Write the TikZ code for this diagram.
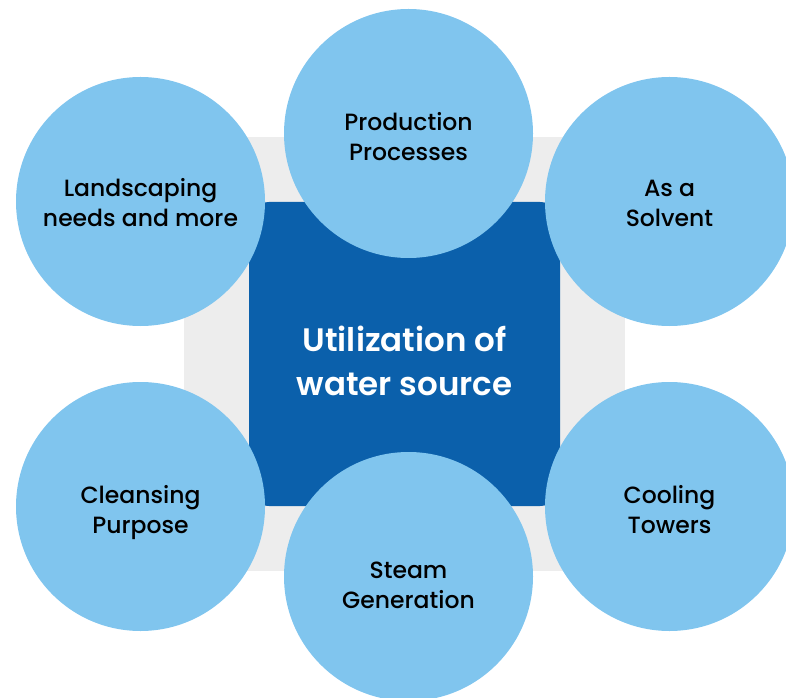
\documentclass[tikz,border=0pt]{standalone}
\usepackage{fontspec}
\setmainfont{Poppins}[BoldFont={Poppins SemiBold}]
\newfontfamily\mediumfont{Poppins Medium}
\definecolor{bubble}{HTML}{80C5EE}
\definecolor{hub}{HTML}{0B60AB}
\definecolor{panel}{HTML}{EDEDED}
\begin{document}
\begin{tikzpicture}[x=1pt,y=1pt,
  bubblestyle/.style={circle,fill=bubble,minimum size=249pt,inner sep=0pt},
  bubbletext/.style={align=center,inner sep=0pt,
    font=\fontsize{23.5}{29.5}\selectfont\mediumfont,text=black},
  hubstyle/.style={fill=hub,rounded corners=20pt,minimum width=311pt,minimum height=304pt,
    inner sep=0pt},
  hubtextstyle/.style={align=center,text=white,inner sep=0pt,font=\fontsize{32.5}{44}\selectfont\bfseries}]
\useasboundingbox (0,0) rectangle (786,697);
\clip (0,0) rectangle (786,697);
\fill[panel] (184,126) rectangle (625,560);
\node[hubstyle] (hub) at (404.5,343) {};
\node[hubtextstyle] (hubtext) at ([yshift=-7pt]hub.center) {Utilization of\\water source};
\node[bubblestyle] (land) at (140.5,495.5) {};
\node[bubblestyle] (prod) at (408.5,563.5) {};
\node[bubblestyle] (solv) at (669.5,495.5) {};
\node[bubblestyle] (clean) at (140.5,190.5) {};
\node[bubblestyle] (steam) at (408.5,120.5) {};
\node[bubblestyle] (cool) at (669.5,190.5) {};
\node[bubbletext] (landtext) at ([yshift=-1pt]land.center) {Landscaping\\needs and more};
\node[bubbletext] (prodtext) at ([yshift=-3pt]prod.center) {Production\\Processes};
\node[bubbletext] (solvtext) at ([yshift=-2pt]solv.center) {As a\\Solvent};
\node[bubbletext] (cleantext) at ([yshift=-6pt]clean.center) {Cleansing\\Purpose};
\node[bubbletext] (steamtext) at ([yshift=-9pt]steam.center) {Steam\\Generation};
\node[bubbletext] (cooltext) at ([yshift=-3pt]cool.center) {Cooling\\Towers};
\end{tikzpicture}
\end{document}
